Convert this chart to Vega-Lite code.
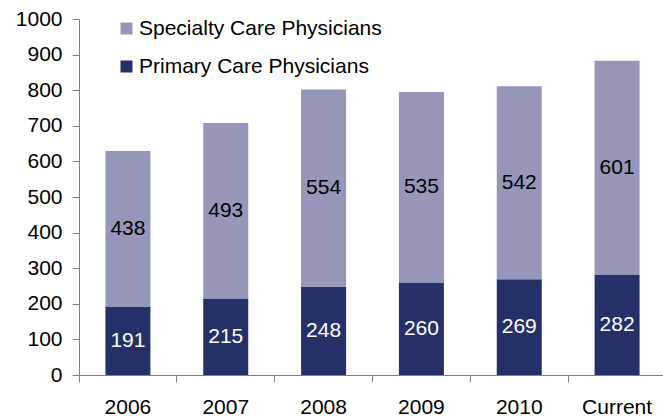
{
  "$schema": "https://vega.github.io/schema/vega-lite/v6.json",
  "autosize": "none",
  "width": 587,
  "height": 356,
  "padding": {"left": 79, "top": 19, "right": 0, "bottom": 44},
  "background": "white",
  "config": {
    "view": {"stroke": null},
    "font": "Liberation Sans",
    "axis": {"grid": false, "domainColor": "#808080", "tickColor": "#808080", "labelColor": "#000000", "labelFont": "Liberation Sans", "labelFontSize": 21, "title": null},
    "axisY": {"values": [0,100,200,300,400,500,600,700,800,900,1000], "format": "d", "labelOverlap": false, "tickSize": 7, "labelPadding": 10}
  },
  "data": {
    "values": [
      {"year": "2006", "series": "Primary Care Physicians", "value": 191},
      {"year": "2006", "series": "Specialty Care Physicians", "value": 438},
      {"year": "2007", "series": "Primary Care Physicians", "value": 215},
      {"year": "2007", "series": "Specialty Care Physicians", "value": 493},
      {"year": "2008", "series": "Primary Care Physicians", "value": 248},
      {"year": "2008", "series": "Specialty Care Physicians", "value": 554},
      {"year": "2009", "series": "Primary Care Physicians", "value": 260},
      {"year": "2009", "series": "Specialty Care Physicians", "value": 535},
      {"year": "2010", "series": "Primary Care Physicians", "value": 269},
      {"year": "2010", "series": "Specialty Care Physicians", "value": 542},
      {"year": "Current", "series": "Primary Care Physicians", "value": 282},
      {"year": "Current", "series": "Specialty Care Physicians", "value": 601}
    ]
  },
  "transform": [
    {"stack": "value", "groupby": ["year"], "sort": [{"field": "series", "order": "ascending"}], "as": ["v0", "v1"]},
    {"calculate": "(datum.v0 + datum.v1) / 2", "as": "mid"}
  ],
  "encoding": {
    "x": {
      "field": "year", "type": "nominal", "sort": null,
      "scale": {"paddingInner": 0, "paddingOuter": 0},
      "axis": {"labelAngle": 0, "tickSize": 7, "labelPadding": 14, "bandPosition": 0, "labelOverlap": false, "domainWidth": 1, "tickWidth": 1}
    }
  },
  "layer": [
    {
      "mark": {"type": "bar", "width": {"band": 0.46}},
      "encoding": {
        "y": {"field": "v0", "type": "quantitative", "scale": {"domain": [0, 1000]},
          "axis": {"values": [0,100,200,300,400,500,600,700,800,900,1000], "format": "d", "labelOverlap": false, "tickSize": 7, "labelPadding": 10}},
        "y2": {"field": "v1"},
        "color": {
          "field": "series", "type": "nominal",
          "scale": {"domain": ["Specialty Care Physicians", "Primary Care Physicians"], "range": ["#9596BA", "#263068"]},
          "legend": {
            "orient": "none", "legendX": 37, "legendY": -1, "title": null,
            "symbolType": "square", "symbolSize": 144, "symbolStrokeWidth": 0, "symbolOpacity": 1,
            "labelFontSize": 21, "labelFont": "Liberation Sans", "labelColor": "#000000", "labelLimit": 0,
            "labelOffset": 2, "rowPadding": 16
          }
        }
      }
    },
    {
      "mark": {"type": "text", "fontSize": 21, "font": "Liberation Sans", "baseline": "middle"},
      "encoding": {
        "y": {"field": "mid", "type": "quantitative",
          "axis": {"values": [0,100,200,300,400,500,600,700,800,900,1000], "format": "d", "labelOverlap": false, "tickSize": 7, "labelPadding": 10}},
        "text": {"field": "value", "type": "quantitative"},
        "color": {
          "condition": {"test": "datum.series === 'Primary Care Physicians'", "value": "#FFFFFF"},
          "value": "#000000"
        }
      }
    }
  ]
}
